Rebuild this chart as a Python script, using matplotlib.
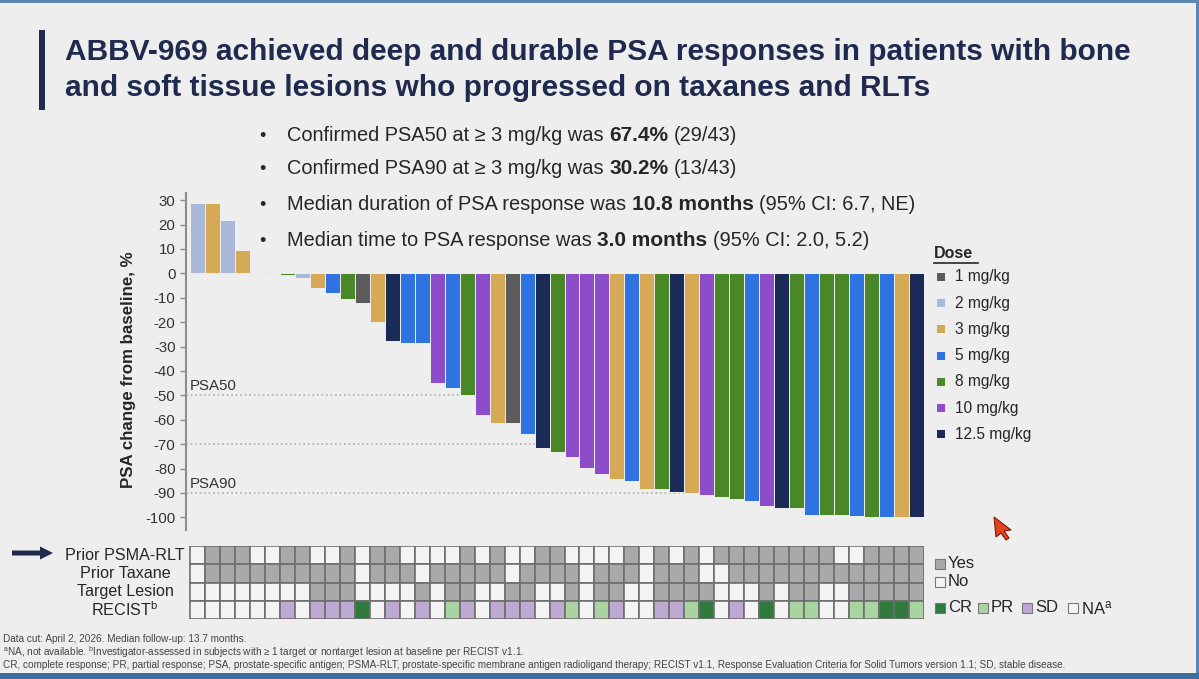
import matplotlib
matplotlib.use("Agg")
import matplotlib.pyplot as plt
from matplotlib.patches import Rectangle, Polygon, FancyArrow
from matplotlib import font_manager
import numpy as np

W, H = 1199, 679

# ---------------- data ----------------
dose_labels = ["1 mg/kg", "2 mg/kg", "3 mg/kg", "5 mg/kg", "8 mg/kg", "10 mg/kg", "12.5 mg/kg"]
dose_colors = ["#5c5c5c", "#a9b7d8", "#d6a957", "#2f73e0", "#4a8727", "#8d4dc8", "#1b2b58"]

psa_change = [29, 29, 22, 9.5, -0.3, -0.4, -0.8, -2, -6, -8, -10.5, -12, -20, -27.7,
              -28.7, -28.7, -45, -47, -50, -58, -61.2, -61.5, -66, -71.6, -73.4, -75.1,
              -79.9, -82.4, -84.3, -85, -88.3, -88.4, -89.8, -90.2, -90.9, -91.5, -92.5,
              -93.3, -95.4, -96.3, -96.3, -99, -99, -99, -99.3, -99.7, -99.8, -99.9, -100]

patient_dose = ["2 mg/kg", "3 mg/kg", "2 mg/kg", "3 mg/kg", "1 mg/kg", "1 mg/kg", "8 mg/kg",
                "2 mg/kg", "3 mg/kg", "5 mg/kg", "8 mg/kg", "1 mg/kg", "3 mg/kg", "12.5 mg/kg",
                "5 mg/kg", "5 mg/kg", "10 mg/kg", "5 mg/kg", "8 mg/kg", "10 mg/kg", "3 mg/kg",
                "1 mg/kg", "5 mg/kg", "12.5 mg/kg", "8 mg/kg", "10 mg/kg", "10 mg/kg", "10 mg/kg",
                "3 mg/kg", "5 mg/kg", "3 mg/kg", "8 mg/kg", "12.5 mg/kg", "3 mg/kg", "10 mg/kg",
                "8 mg/kg", "8 mg/kg", "5 mg/kg", "10 mg/kg", "12.5 mg/kg", "8 mg/kg", "5 mg/kg",
                "8 mg/kg", "8 mg/kg", "5 mg/kg", "8 mg/kg", "5 mg/kg", "3 mg/kg", "12.5 mg/kg"]

prior_psma_rlt = [0, 1, 1, 1, 0, 0, 1, 1, 0, 0, 1, 0, 1, 1, 0, 0, 0, 0, 1, 0, 1, 0, 0, 1, 1,
                  0, 0, 0, 0, 1, 0, 1, 0, 1, 0, 1, 1, 1, 1, 1, 1, 1, 1, 0, 0, 1, 1, 1, 1]
prior_taxane = [0, 1, 1, 1, 1, 1, 1, 1, 1, 1, 1, 0, 1, 1, 1, 0, 1, 1, 1, 1, 1, 0, 1, 1, 1,
                1, 0, 1, 1, 1, 0, 1, 1, 1, 0, 0, 1, 1, 1, 1, 1, 1, 1, 1, 1, 1, 1, 1, 1]
target_lesion = [0, 0, 0, 0, 0, 0, 0, 0, 1, 1, 1, 0, 0, 0, 0, 1, 0, 1, 1, 0, 0, 1, 1, 0, 0,
                 1, 0, 1, 1, 0, 0, 1, 1, 1, 1, 0, 0, 0, 1, 0, 1, 1, 0, 0, 1, 1, 1, 1, 1]
recist = ["NA", "NA", "NA", "NA", "NA", "NA", "SD", "NA", "SD", "SD", "SD", "CR", "NA", "SD",
          "NA", "SD", "NA", "PR", "SD", "NA", "SD", "SD", "SD", "NA", "SD", "PR", "NA", "PR",
          "SD", "NA", "NA", "SD", "SD", "PR", "CR", "NA", "SD", "NA", "CR", "NA", "PR", "PR",
          "NA", "NA", "PR", "PR", "CR", "CR", "PR"]

row_labels = ["Prior PSMA-RLT", "Prior Taxane", "Target Lesion", "RECIST$^{\\mathrm{b}}$"]
yes_no_colors = {1: "#a9a9a9", 0: "#f4f4f4"}
recist_colors = {"CR": "#2f7a3c", "PR": "#a9d4a1", "SD": "#bea9d3", "NA": "#f4f4f4"}

y_ticks = list(range(-100, 31, 10))
ref_lines = [-50, -70, -90]

title_lines = ["ABBV-969 achieved deep and durable PSA responses in patients with bone",
               "and soft tissue lesions who progressed on taxanes and RLTs"]
bullets = [
    [("Confirmed PSA50 at \u2265 3 mg/kg was ", False), ("67.4%", True), (" (29/43)", False)],
    [("Confirmed PSA90 at \u2265 3 mg/kg was ", False), ("30.2%", True), (" (13/43)", False)],
    [("Median duration of PSA response was ", False), ("10.8 months", True), (" (95% CI: 6.7, NE)", False)],
    [("Median time to PSA response was ", False), ("3.0 months", True), (" (95% CI: 2.0, 5.2)", False)],
]
footnotes = [
    "Data cut: April 2, 2026. Median follow-up: 13.7 months.",
    "$^{\\mathrm{a}}$NA, not available. $^{\\mathrm{b}}$Investigator-assessed in subjects with \u2265 1 target or nontarget lesion at baseline per RECIST v1.1.",
    "CR, complete response; PR, partial response; PSA, prostate-specific antigen; PSMA-RLT, prostate-specific membrane antigen radioligand therapy; RECIST v1.1, Response Evaluation Criteria for Solid Tumors version 1.1; SD, stable disease.",
]

# ---------------- fonts ----------------
names = {f.name for f in font_manager.fontManager.ttflist}
SANS = ["Liberation Sans", "DejaVu Sans"]
narrow_ok = "Liberation Sans Narrow" in names
NARROW = ["Liberation Sans Narrow", "Liberation Sans", "DejaVu Sans"] if narrow_ok else SANS
plt.rcParams["font.family"] = SANS
plt.rcParams["mathtext.fontset"] = "custom"
plt.rcParams["mathtext.rm"] = "Liberation Sans"
plt.rcParams["mathtext.it"] = "Liberation Sans:italic"
plt.rcParams["mathtext.bf"] = "Liberation Sans:bold"

NAVY = "#1f2a4e"
TXT = "#262626"

fig = plt.figure(figsize=(W / 100, H / 100), dpi=100)
fig.patch.set_facecolor("#eeeeee")

# overlay in pixel coordinates for slide decorations / text
ov = fig.add_axes([0, 0, 1, 1])
ov.set_xlim(0, W)
ov.set_ylim(H, 0)
ov.axis("off")

# frame
ov.add_patch(Rectangle((0, 0), W, 3, color="#5b86b3", lw=0))
ov.add_patch(Rectangle((W - 3, 0), 3, H, color="#5b86b3", lw=0))
ov.add_patch(Rectangle((0, H - 6), W, 6, color="#3f6d9e", lw=0))

# title
ov.add_patch(Rectangle((39, 30), 6, 80, color=NAVY, lw=0))
ov.text(65, 52, title_lines[0], fontsize=21.5, weight="bold", color=NAVY, va="center", ha="left")
ov.text(65, 88, title_lines[1], fontsize=21.5, weight="bold", color=NAVY, va="center", ha="left")

# bullets with mixed weight
r = fig.canvas.get_renderer()
inv = ov.transData.inverted()


def rich(x, y, parts, size):
    sp = 0.278 * size * 100 / 72
    cx = x
    for txt, bold in parts:
        lead = len(txt) - len(txt.lstrip(" "))
        trail = len(txt) - len(txt.rstrip(" "))
        t = ov.text(cx + lead * sp, y, txt.strip(" "), fontsize=size + (0.6 if bold else 0),
                    weight="bold" if bold else "normal", color=TXT, va="baseline", ha="left")
        bb = t.get_window_extent(renderer=r)
        x1 = inv.transform((bb.x1, bb.y0))[0]
        cx = x1 + trail * sp


bullet_y = [141, 174.5, 210, 246]
for by, parts in zip(bullet_y, bullets):
    ov.text(262, by, "\u2022", fontsize=13, color=TXT, va="baseline", ha="center")
    rich(287, by, parts, 14.4)

# ---------------- waterfall ----------------
ax = fig.add_axes([186 / W, 1 - 529.5 / H, 738 / W, (529.5 - 192.8) / H])
ax.set_facecolor("none")
x = np.arange(len(psa_change))
colors = [dose_colors[dose_labels.index(d)] for d in patient_dose]
ax.bar(x, psa_change, width=1.0, color=colors, edgecolor="#eeeeee", linewidth=0.7, zorder=2)
for v in ref_lines:
    ax.axhline(v, color="#b8b8b8", lw=1.3, ls=(0, (1, 1.5)), zorder=1)
ax.set_xlim(-0.77, len(psa_change) - 0.5)
ax.set_ylim(-105, 33)
ax.set_yticks(y_ticks)
ax.set_yticklabels([str(t) for t in y_ticks])
ax.tick_params(axis="y", labelsize=10.8, labelcolor="#333333", color="#8c8c8c", length=4, width=1)
ax.tick_params(axis="x", bottom=False, labelbottom=False)
for s in ["top", "right", "bottom"]:
    ax.spines[s].set_visible(False)
ax.spines["left"].set_color("#8c8c8c")
ax.spines["left"].set_linewidth(1.5)
ax.text(-0.55, -46.2, "PSA50", fontsize=10.8, color="#333333", va="center", ha="left")
ax.text(-0.55, -86.4, "PSA90", fontsize=10.8, color="#333333", va="center", ha="left")

ov.text(128, 370, "PSA change from baseline, %", rotation=90, fontsize=12.2, weight="bold",
        color=TXT, ha="center", va="center")

# dose legend
ov.text(934, 253, "Dose", fontsize=11.5, weight="bold", color=TXT, ha="left", va="center")
ov.plot([934, 978], [262.5, 262.5], color=TXT, lw=1.2)
for i, (lab, col) in enumerate(zip(dose_labels, dose_colors)):
    yy = 277 + 26.2 * i
    ov.add_patch(Rectangle((937, yy - 4), 8, 8, color=col, lw=0))
    ov.text(955, yy, lab, fontsize=11.2, color=TXT, ha="left", va="center")

# ---------------- grid ----------------
gx = fig.add_axes([186 / W, 1 - 619 / H, 738 / W, 73 / H])
gx.set_xlim(-0.77, len(psa_change) - 0.5)
gx.set_ylim(4, 0)
gx.axis("off")
rows = [prior_psma_rlt, prior_taxane, target_lesion]
for ri, row in enumerate(rows):
    for ci, v in enumerate(row):
        gx.add_patch(Rectangle((ci - 0.5, ri), 1, 1, facecolor=yes_no_colors[v],
                               edgecolor="#6e6e6e", lw=1.2))
for ci, v in enumerate(recist):
    gx.add_patch(Rectangle((ci - 0.5, 3), 1, 1, facecolor=recist_colors[v],
                           edgecolor="#6e6e6e", lw=1.2))

row_y = [555, 573.5, 591.5, 609.5]
for lab, yy in zip(row_labels, row_y):
    ov.text(125, yy, lab, fontsize=11.6, color=TXT, ha="center", va="center")

ov.add_patch(FancyArrow(12, 553, 41, 0, width=5, head_width=13, head_length=13,
                        length_includes_head=True, color=NAVY, lw=0))

# grid legend
def sq(xx, yy, col):
    ov.add_patch(Rectangle((xx - 5, yy - 5), 10, 10, facecolor=col, edgecolor="#777777", lw=0.8))

sq(940, 564, yes_no_colors[1]); ov.text(948, 564, "Yes", fontsize=12, color=TXT, va="center")
sq(940, 582, yes_no_colors[0]); ov.text(948, 582, "No", fontsize=12, color=TXT, va="center")
leg_items = [("CR", 940), ("PR", 983), ("SD", 1027), ("NA$^{\\mathrm{a}}$", 1073)]
for lab, xx in leg_items:
    key = lab[:2]
    sq(xx, 608, recist_colors[key])
    ov.text(xx + 8, 608, lab, fontsize=12, color=TXT, va="center")

# cursor
ov.add_patch(Polygon([(994, 517), (1011, 530), (1004, 531), (1009, 538), (1006, 540),
                      (1001, 533), (996, 537)], closed=True, facecolor="#e2421f",
                     edgecolor="#7a1a0a", lw=0.8))

# footnotes
fs = 7.6 if narrow_ok else 7.2
for i, line in enumerate(footnotes):
    ov.text(3, 639 + 13 * i, line, fontsize=fs, family=NARROW, color="#444444",
            ha="left", va="center")

fig.savefig("out.png", dpi=100, facecolor=fig.get_facecolor())
